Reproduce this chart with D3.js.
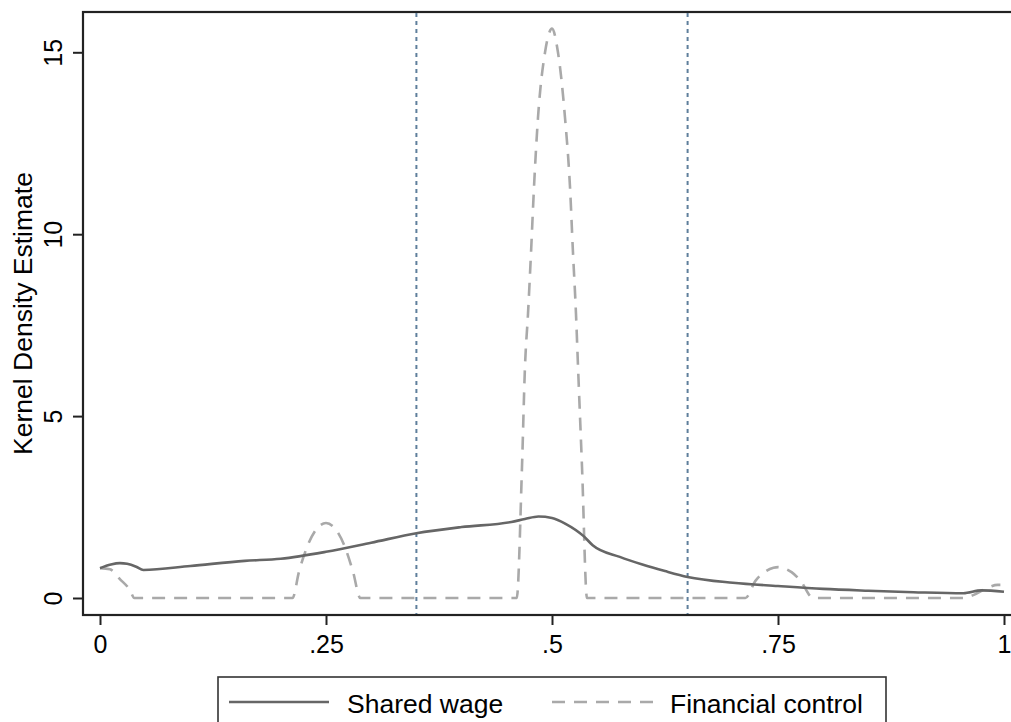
<!DOCTYPE html>
<html>
<head>
<meta charset="utf-8">
<script src="https://cdn.jsdelivr.net/npm/d3@7"></script>
<style>
  html, body { margin: 0; padding: 0; background: #fff; }
  svg { display: block; font-family: "Liberation Sans", Arial, Helvetica, sans-serif; }
</style>
</head>
<body>
<svg id="chart" width="1011" height="722"></svg>
<script>
// Kernel density estimates: [share, density]
const sharedWage = [
  [0, 0.82], [0.012, 0.92], [0.022, 0.96], [0.03, 0.94], [0.04, 0.86], [0.048, 0.77],
  [0.1, 0.88], [0.16, 1.02], [0.2, 1.08], [0.25, 1.27], [0.3, 1.52], [0.35, 1.78],
  [0.4, 1.95], [0.455, 2.09], [0.47, 2.17], [0.485, 2.24], [0.5, 2.2], [0.515, 2.04],
  [0.535, 1.7], [0.545, 1.45], [0.575, 1.13], [0.6, 0.92], [0.625, 0.74], [0.65, 0.58],
  [0.7, 0.42], [0.75, 0.33], [0.8, 0.25], [0.85, 0.2], [0.9, 0.16], [0.955, 0.13],
  [0.975, 0.21], [1.0, 0.17]
];

const financialControl = [
  [0, 0.82], [0.011, 0.79], [0.022, 0.52], [0.033, 0.22], [0.038, 0],
  [0.213, 0], [0.22, 0.71], [0.23, 1.46], [0.24, 1.91], [0.25, 2.06], [0.26, 1.91],
  [0.27, 1.46], [0.28, 0.71], [0.288, 0],
  [0.461, 0], [0.4668, 3.6], [0.4701, 6.35], [0.4735, 7.83], [0.4768, 9.5], [0.4801, 11.3],
  [0.4845, 13.2], [0.4923, 15.0], [0.5, 15.65], [0.5066, 15.0], [0.5144, 13.2],
  [0.5199, 11.3], [0.5232, 9.5], [0.5265, 7.83], [0.5288, 6.35], [0.5332, 3.6], [0.5387, 0],
  [0.714, 0], [0.725, 0.47], [0.735, 0.71], [0.745, 0.83], [0.75, 0.85], [0.755, 0.83],
  [0.765, 0.71], [0.775, 0.47], [0.789, 0],
  [0.955, 0], [0.966, 0.08], [0.981, 0.27], [0.993, 0.36], [0.996, 0.36]
];

const xTicks = [0, 0.25, 0.5, 0.75, 1];
const xTickLabels = ["0", ".25", ".5", ".75", "1"];
const yTicks = [0, 5, 10, 15];
const cutoffs = [0.35, 0.65];
const seriesNames = ["Shared wage", "Financial control"];

const svg = d3.select("#chart");

const frame = { left: 83, top: 12, right: 1013, bottom: 615 };
const x = d3.scaleLinear().domain([0, 1]).range([100, 1004]);
const y = d3.scaleLinear().domain([0, 15]).range([598, 52.3]);

// plot region border
svg.append("rect")
  .attr("x", frame.left).attr("y", frame.top)
  .attr("width", frame.right - frame.left).attr("height", frame.bottom - frame.top)
  .attr("fill", "none").attr("stroke", "#222").attr("stroke-width", 2.2);

// y axis with rotated labels
const yAxis = svg.append("g")
  .attr("transform", `translate(${frame.left},0)`)
  .call(d3.axisLeft(y).tickValues(yTicks).tickSize(10).tickFormat(d3.format("d")));
yAxis.select(".domain").remove();
yAxis.selectAll(".tick line").attr("stroke", "#222").attr("stroke-width", 2);
yAxis.selectAll(".tick text")
  .attr("x", 0).attr("y", -21).attr("dy", 0)
  .attr("transform", "rotate(-90)")
  .attr("text-anchor", "middle")
  .attr("fill", "#000")
  .style("font-size", "25px");

// x axis
const xAxis = svg.append("g")
  .attr("transform", `translate(0,${frame.bottom})`)
  .call(d3.axisBottom(x).tickValues(xTicks).tickSize(10)
    .tickFormat((d, i) => xTickLabels[i]));
xAxis.select(".domain").remove();
xAxis.selectAll(".tick line").attr("stroke", "#222").attr("stroke-width", 2);
xAxis.selectAll(".tick text")
  .attr("y", 38).attr("dy", 0)
  .attr("fill", "#000")
  .style("font-size", "25px");

// y axis title
svg.append("text")
  .attr("transform", `translate(32,313.5) rotate(-90)`)
  .attr("text-anchor", "middle")
  .style("font-size", "26.5px")
  .attr("fill", "#000")
  .text("Kernel Density Estimate");

// cutoff reference lines
svg.append("g").selectAll("line")
  .data(cutoffs).join("line")
  .attr("x1", d => x(d)).attr("x2", d => x(d))
  .attr("y1", frame.top + 1).attr("y2", frame.bottom - 1)
  .attr("stroke", "#5f7f9c").attr("stroke-width", 2)
  .attr("stroke-dasharray", "4,4");

const line = d3.line()
  .x(d => x(d[0])).y(d => y(d[1]))
  .curve(d3.curveMonotoneX);

svg.append("path")
  .datum(financialControl)
  .attr("d", line)
  .attr("fill", "none")
  .attr("stroke", "#a9a9a9").attr("stroke-width", 2.6)
  .attr("stroke-dasharray", "13,9");

svg.append("path")
  .datum(sharedWage)
  .attr("d", line)
  .attr("fill", "none")
  .attr("stroke", "#666").attr("stroke-width", 2.6);

// legend
const legend = svg.append("g");
legend.append("rect")
  .attr("x", 218).attr("y", 677).attr("width", 668).attr("height", 70)
  .attr("fill", "#fff").attr("stroke", "#333").attr("stroke-width", 1.6);
legend.append("line")
  .attr("x1", 229).attr("x2", 329).attr("y1", 702).attr("y2", 702)
  .attr("stroke", "#666").attr("stroke-width", 2.6);
legend.append("text")
  .attr("x", 347).attr("y", 713)
  .style("font-size", "26.5px").attr("fill", "#000")
  .text(seriesNames[0]);
legend.append("line")
  .attr("x1", 552).attr("x2", 656).attr("y1", 702).attr("y2", 702)
  .attr("stroke", "#a9a9a9").attr("stroke-width", 2.6)
  .attr("stroke-dasharray", "13,9");
legend.append("text")
  .attr("x", 670).attr("y", 713)
  .style("font-size", "26.5px").attr("fill", "#000")
  .text(seriesNames[1]);
</script>
</body>
</html>
